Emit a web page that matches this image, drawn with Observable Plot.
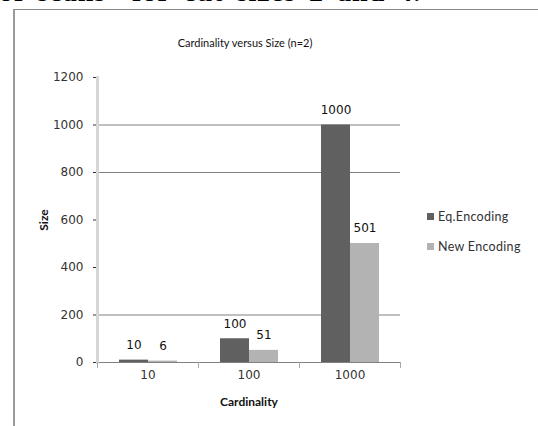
<!DOCTYPE html>
<html><head><meta charset="utf-8">
<script src="https://cdn.jsdelivr.net/npm/d3@7"></script>
<script src="https://cdn.jsdelivr.net/npm/@observablehq/plot@0.6"></script>
<style>
body{margin:0;background:#fff;}
#wrap{position:relative;width:538px;height:426px;overflow:hidden;background:#fff;}
#wrap svg{position:absolute;left:0;top:0;}
#border{position:absolute;left:13px;top:9px;width:600px;height:500px;border-left:2px solid #9a9a9a;border-top:1px solid #8a8a8a;}
#cut{position:absolute;left:-1px;top:-24px;line-height:34px;font:bold 28px "Liberation Serif";letter-spacing:1px;word-spacing:5px;white-space:nowrap;color:#000;z-index:5;}
#title{position:absolute;left:0;width:490px;top:36px;text-align:center;font:11px Lato;color:#111;}
.leg{position:absolute;left:427px;font:12.5px Lato;letter-spacing:0.3px;color:#333;white-space:nowrap;}
.leg span{display:inline-block;width:7px;height:7px;margin-right:4px;vertical-align:1px;}
g[aria-label$="axis label"] text{font-weight:bold;font-family:Lato;fill:#111;}
</style></head><body><div id="wrap">
<div id="cut">of scans&nbsp; for cut sizes 2 and 4.</div>
<div id="border"></div>
<div id="title">Cardinality versus Size (n=2)</div>
</div>
<script>
const categories = ["10","100","1000"];
const seriesNames = ["Eq.Encoding","New Encoding"];
const eqValues = [10,100,1000];
const newValues = [6,51,501];
const yTicks = [0,200,400,600,800,1000,1200];
const gridValues = [0,200,800,1000];
const colors = ["#606060","#b3b3b3"];

const data = categories.flatMap((c,i)=>[
  {card:c, series:seriesNames[0], value:eqValues[i]},
  {card:c, series:seriesNames[1], value:newValues[i]}
]);

const chart = Plot.plot({
  width:538, height:426, marginLeft:97, marginRight:138, marginTop:77, marginBottom:64,
  style:{background:"transparent", fontFamily:"DejaVu Sans", fontSize:"12px", color:"#333"},
  fx:{domain:categories, padding:0, label:"Cardinality", tickSize:0, tickPadding:8, labelOffset:43},
  x:{domain:seriesNames, paddingInner:0, paddingOuter:0.74, axis:null},
  y:{domain:[0,1200], ticks:yTicks, tickFormat:d=>String(d), tickSize:4, tickPadding:10, label:"Size", labelAnchor:"center", labelOffset:58, labelArrow:"none"},
  color:{domain:seriesNames, range:colors},
  marks:[
    Plot.ruleY(gridValues,{stroke:"#808080", strokeWidth:1}),
    Plot.frame({anchor:"left", facetAnchor:"left", stroke:"#d6d6d6", strokeWidth:3}),
    Plot.frame({anchor:"left", stroke:"#a8a8a8", insetTop:285, insetBottom:-5}),
    Plot.frame({anchor:"right", facetAnchor:"right", stroke:"#a8a8a8", insetTop:285, insetBottom:-5}),
    Plot.barY(data,{fx:"card", x:"series", y:"value", fill:"series"}),
    Plot.text(data,{fx:"card", x:"series", y:"value", text:d=>String(d.value), dy:-15, fill:"#111"})
  ]
});
const wrap = document.getElementById("wrap");
wrap.insertBefore(chart, wrap.firstChild);

seriesNames.forEach((s,i)=>{
  const d = document.createElement("div");
  d.className = "leg";
  d.style.top = (209 + i*30) + "px";
  d.innerHTML = `<span style="background:${colors[i]}"></span>${s}`;
  wrap.appendChild(d);
});
</script>
</body></html>
